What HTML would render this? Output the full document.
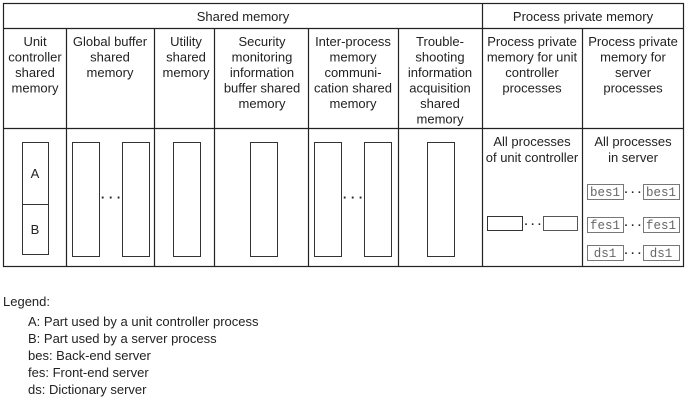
<!DOCTYPE html>
<html><head><style>
body{margin:0;background:#fff}
svg{display:block}
text{font-family:"Liberation Sans",Arial,sans-serif;font-size:13px;fill:#222}
.m{font-family:"Liberation Mono",monospace;font-size:12.5px;fill:#666}
</style></head><body>
<svg width="687" height="401" viewBox="0 0 687 401" xmlns="http://www.w3.org/2000/svg">
<g stroke="#222" stroke-width="1.2" fill="none">
<rect x="3.5" y="3.5" width="680" height="263"/>
<line x1="3" y1="28.5" x2="684" y2="28.5"/>
<line x1="3" y1="128.5" x2="684" y2="128.5"/>
<line x1="66.5" y1="28" x2="66.5" y2="267"/>
<line x1="154.5" y1="28" x2="154.5" y2="267"/>
<line x1="214.5" y1="28" x2="214.5" y2="267"/>
<line x1="308.5" y1="28" x2="308.5" y2="267"/>
<line x1="398.5" y1="28" x2="398.5" y2="267"/>
<line x1="482.5" y1="3" x2="482.5" y2="267"/>
<line x1="582.5" y1="28" x2="582.5" y2="267"/>
</g>
<g stroke="#333" stroke-width="1" fill="none">
<rect x="22.5" y="142.5" width="26" height="112"/>
<line x1="22" y1="204.5" x2="49" y2="204.5"/>
<rect x="72.5" y="142.5" width="27" height="114"/>
<rect x="122.5" y="142.5" width="27" height="114"/>
<rect x="173.5" y="142.5" width="27" height="114"/>
<rect x="250.5" y="142.5" width="27" height="114"/>
<rect x="314.5" y="142.5" width="27" height="114"/>
<rect x="364.5" y="142.5" width="27" height="114"/>
<rect x="427.5" y="142.5" width="27" height="114"/>
<rect x="487.5" y="216.5" width="35" height="14"/>
<rect x="543.5" y="216.5" width="34" height="14" stroke="#555"/>
</g>
<g stroke="#777" stroke-width="1" fill="none">
<rect x="587.5" y="184.5" width="36" height="15"/>
<rect x="643.5" y="184.5" width="36" height="15"/>
<rect x="587.5" y="217.5" width="36" height="15"/>
<rect x="643.5" y="217.5" width="36" height="15"/>
<rect x="587.5" y="245.5" width="36" height="15"/>
<rect x="643.5" y="245.5" width="36" height="15"/>
</g>
<g text-anchor="middle">
<text x="243" y="21">Shared memory</text>
<text x="583" y="21">Process private memory</text>
<text x="35" y="46">Unit</text><text x="35" y="61.5">controller</text><text x="35" y="77">shared</text><text x="35" y="92.5">memory</text>
<text x="110" y="46">Global buffer</text><text x="110" y="61.5">shared</text><text x="110" y="77">memory</text>
<text x="186" y="46">Utility</text><text x="186" y="61.5">shared</text><text x="186" y="77">memory</text>
<text x="262" y="46">Security</text><text x="262" y="61.5">monitoring</text><text x="262" y="77">information</text><text x="262" y="92.5">buffer shared</text><text x="262" y="108">memory</text>
<text x="353" y="46">Inter-process</text><text x="353" y="61.5">memory</text><text x="353" y="77">communi-</text><text x="353" y="92.5">cation shared</text><text x="353" y="108">memory</text>
<text x="440" y="46">Trouble-</text><text x="440" y="61.5">shooting</text><text x="440" y="77">information</text><text x="440" y="92.5">acquisition</text><text x="440" y="108">shared</text><text x="440" y="123.5">memory</text>
<text x="532" y="46">Process private</text><text x="532" y="61.5">memory for unit</text><text x="532" y="77">controller</text><text x="532" y="92.5">processes</text>
<text x="633" y="46">Process private</text><text x="633" y="61.5">memory for</text><text x="633" y="77">server</text><text x="633" y="92.5">processes</text>
<text x="532" y="146">All processes</text><text x="532" y="162">of unit controller</text>
<text x="633" y="146">All processes</text><text x="633" y="162">in server</text>
<text x="35" y="178">A</text><text x="35" y="234">B</text>
<text x="111" y="202" style="font-weight:bold">· · ·</text>
<text x="353" y="202" style="font-weight:bold">· · ·</text>
<text x="533" y="228" style="font-size:11px;font-weight:bold">· · ·</text>
<text x="633" y="196" style="font-size:11px;font-weight:bold">· · ·</text>
<text x="633" y="229" style="font-size:11px;font-weight:bold">· · ·</text>
<text x="633" y="257" style="font-size:11px;font-weight:bold">· · ·</text>
<text class="m" x="605" y="196">bes1</text><text class="m" x="661" y="196">bes1</text>
<text class="m" x="605" y="229">fes1</text><text class="m" x="661" y="229">fes1</text>
<text class="m" x="605" y="257">ds1</text><text class="m" x="661" y="257">ds1</text>
</g>
<text x="3" y="306">Legend:</text>
<text x="28" y="326">A: Part used by a unit controller process</text>
<text x="28" y="343">B: Part used by a server process</text>
<text x="28" y="360">bes: Back-end server</text>
<text x="28" y="377">fes: Front-end server</text>
<text x="28" y="394">ds: Dictionary server</text>
</svg>
</body></html>
